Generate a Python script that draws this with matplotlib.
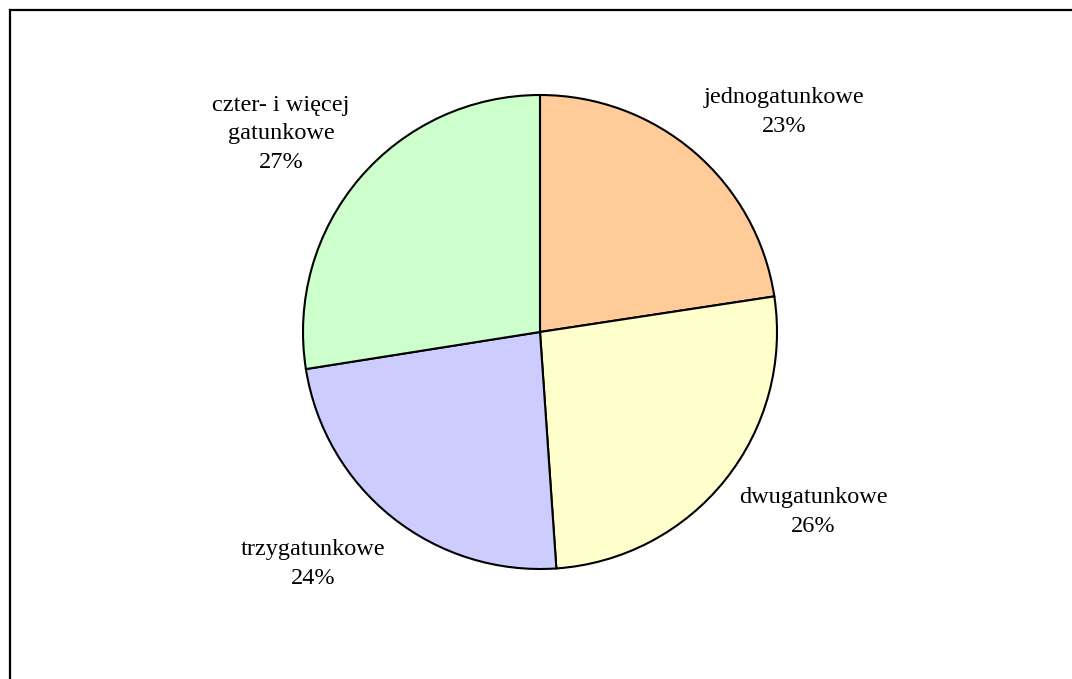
import matplotlib
matplotlib.use("Agg")
import matplotlib.pyplot as plt
from matplotlib.lines import Line2D

categories = ["jednogatunkowe", "dwugatunkowe", "trzygatunkowe", "czter- i więcej\ngatunkowe"]
values = [22.6, 26.3, 23.6, 27.5]
pct_labels = ["23%", "26%", "24%", "27%"]
colors = ["#FFCC99", "#FFFFCC", "#CCCCFF", "#CCFFCC"]

W, H = 1072, 679
fig = plt.figure(figsize=(W / 100, H / 100), dpi=100)
ax = fig.add_axes([0, 0, 1, 1])

cx, cy, r = 540, H - 332, 237
ax.pie(values, colors=colors, startangle=90, counterclock=False,
       center=(cx, cy), radius=r, frame=True,
       wedgeprops=dict(edgecolor="black", linewidth=1.5))
ax.set_xlim(0, W)
ax.set_ylim(0, H)
ax.set_aspect("equal")
ax.axis("off")

# label positions (pixel coords of centres of the label blocks)
label_pos = [(784, 112), (813, 512), (313, 564), (281, 134)]
for cat, pct, (x, y) in zip(categories, pct_labels, label_pos):
    ax.text(x, H - y, f"{cat}\n{pct}", ha="center", va="center",
            fontsize=17.5, family="Liberation Serif", linespacing=1.45)

# chart area border (top and left visible)
fig.add_artist(Line2D([10 / W, 10 / W], [0, 1 - 10 / H], transform=fig.transFigure,
                      color="black", linewidth=1.6))
fig.add_artist(Line2D([10 / W, 1], [1 - 10 / H, 1 - 10 / H], transform=fig.transFigure,
                      color="black", linewidth=1.6))

fig.savefig("out.png", dpi=100, facecolor="white")
